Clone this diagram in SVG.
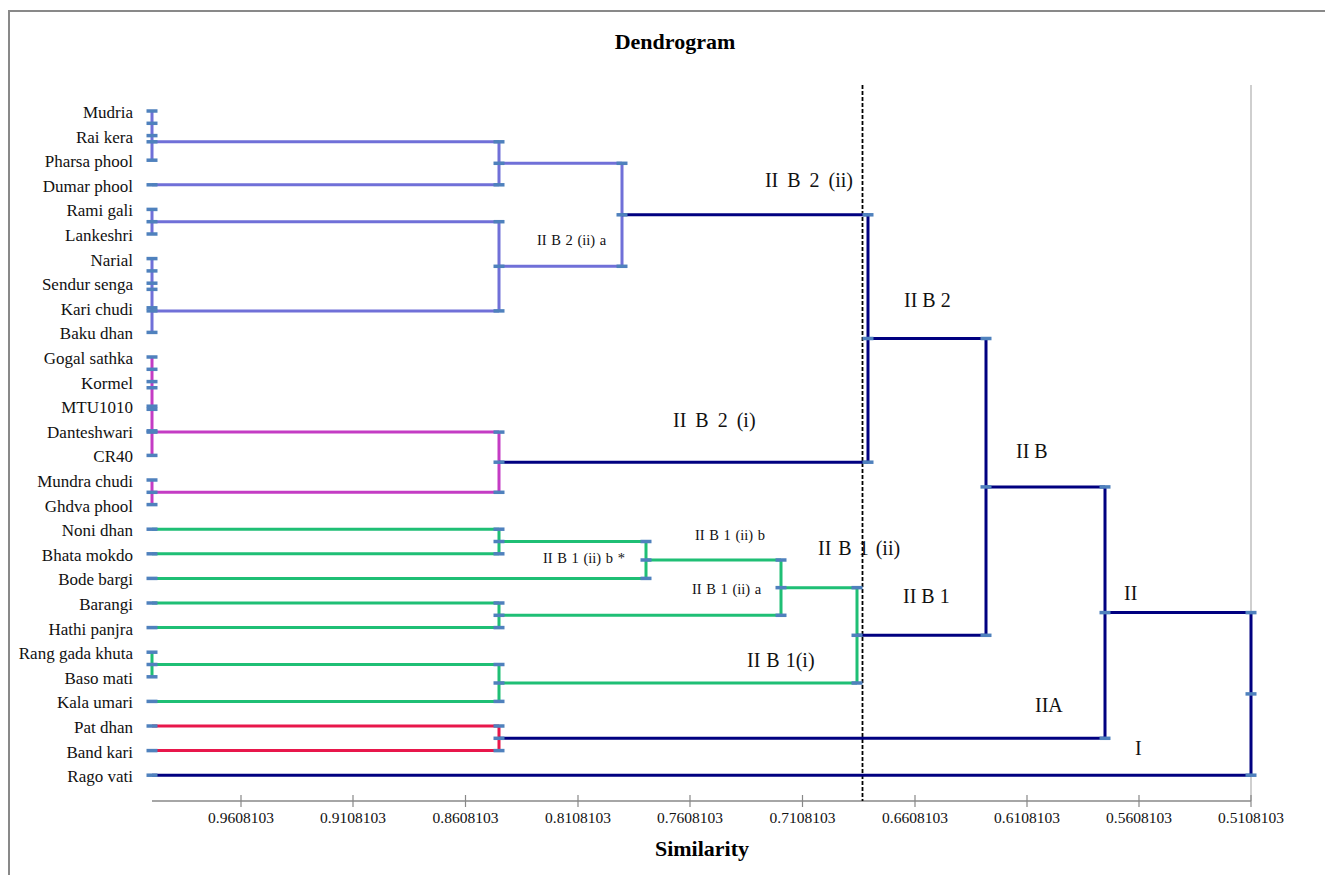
<svg xmlns="http://www.w3.org/2000/svg" width="1325" height="875" viewBox="0 0 1325 875">
<style>
text{font-family:'Liberation Serif','Times New Roman',Tinos,'DejaVu Serif',serif}
.lbl{font-size:17px;fill:#111;text-anchor:end}
.big{font-size:20px;fill:#111}
.sm{font-size:14.5px;fill:#111}
.ax{font-size:15.5px;fill:#111;text-anchor:middle}
.ttl{font-size:22px;font-weight:bold;fill:#000;text-anchor:middle}
.pu{stroke:#7070D8;stroke-width:3;fill:none}
.mg{stroke:#C43CC4;stroke-width:3;fill:none}
.gr{stroke:#1FBF75;stroke-width:3;fill:none}
.rd{stroke:#E8174B;stroke-width:3;fill:none}
.nv{stroke:#000080;stroke-width:3;fill:none}
</style>
<defs>
<path id="mk" d="M-5.5 0H5.5" stroke="#4F81BD" stroke-width="3.5"/>
</defs>
<rect x="0" y="0" width="1325" height="875" fill="#fff"/>
<rect x="9" y="11" width="1400" height="900" fill="none" stroke="#898989" stroke-width="2"/>

<g font-family="Liberation Serif, Times New Roman, serif">
<text class="ttl" x="675" y="49">Dendrogram</text>

<g id="axis">
<line x1="1251" y1="85" x2="1251" y2="801" stroke="#BFBFBF" stroke-width="1.5"/>
<line x1="152" y1="801" x2="1251" y2="801" stroke="#888" stroke-width="1.3"/>
<g stroke="#888" stroke-width="1.2">
<line x1="241" y1="795" x2="241" y2="807"/><line x1="353" y1="795" x2="353" y2="807"/>
<line x1="465.5" y1="795" x2="465.5" y2="807"/><line x1="578" y1="795" x2="578" y2="807"/>
<line x1="690" y1="795" x2="690" y2="807"/><line x1="802.5" y1="795" x2="802.5" y2="807"/>
<line x1="915" y1="795" x2="915" y2="807"/><line x1="1027" y1="795" x2="1027" y2="807"/>
<line x1="1139" y1="795" x2="1139" y2="807"/><line x1="1251" y1="795" x2="1251" y2="807"/>
</g>
<text class="ax" x="241" y="823">0.9608103</text>
<text class="ax" x="353" y="823">0.9108103</text>
<text class="ax" x="465.5" y="823">0.8608103</text>
<text class="ax" x="578" y="823">0.8108103</text>
<text class="ax" x="690" y="823">0.7608103</text>
<text class="ax" x="802.5" y="823">0.7108103</text>
<text class="ax" x="915" y="823">0.6608103</text>
<text class="ax" x="1027" y="823">0.6108103</text>
<text class="ax" x="1139" y="823">0.5608103</text>
<text class="ax" x="1251" y="823">0.5108103</text>
<text class="ttl" x="702" y="856">Similarity</text>
</g>

<g id="leaf-mudria"><text class="lbl" x="133" y="118">Mudria</text></g>
<g id="leaf-rai-kera"><text class="lbl" x="133" y="142.6">Rai kera</text></g>
<g id="leaf-pharsa-phool"><text class="lbl" x="133" y="167.2">Pharsa phool</text></g>
<g id="leaf-dumar-phool"><text class="lbl" x="133" y="191.8">Dumar phool</text></g>
<g id="leaf-rami-gali"><text class="lbl" x="133" y="216.4">Rami gali</text></g>
<g id="leaf-lankeshri"><text class="lbl" x="133" y="241">Lankeshri</text></g>
<g id="leaf-narial"><text class="lbl" x="133" y="265.6">Narial</text></g>
<g id="leaf-sendur-senga"><text class="lbl" x="133" y="290.2">Sendur senga</text></g>
<g id="leaf-kari-chudi"><text class="lbl" x="133" y="314.8">Kari chudi</text></g>
<g id="leaf-baku-dhan"><text class="lbl" x="133" y="339.4">Baku dhan</text></g>
<g id="leaf-gogal-sathka"><text class="lbl" x="133" y="364">Gogal sathka</text></g>
<g id="leaf-kormel"><text class="lbl" x="133" y="388.6">Kormel</text></g>
<g id="leaf-mtu1010"><text class="lbl" x="133" y="413.2">MTU1010</text></g>
<g id="leaf-danteshwari"><text class="lbl" x="133" y="437.8">Danteshwari</text></g>
<g id="leaf-cr40"><text class="lbl" x="133" y="462.4">CR40</text></g>
<g id="leaf-mundra-chudi"><text class="lbl" x="133" y="487">Mundra chudi</text></g>
<g id="leaf-ghdva-phool"><text class="lbl" x="133" y="511.6">Ghdva phool</text></g>
<g id="leaf-noni-dhan"><text class="lbl" x="133" y="536.2">Noni dhan</text></g>
<g id="leaf-bhata-mokdo"><text class="lbl" x="133" y="560.8">Bhata mokdo</text></g>
<g id="leaf-bode-bargi"><text class="lbl" x="133" y="585.4">Bode bargi</text></g>
<g id="leaf-barangi"><text class="lbl" x="133" y="610">Barangi</text></g>
<g id="leaf-hathi-panjra"><text class="lbl" x="133" y="634.6">Hathi panjra</text></g>
<g id="leaf-rang-gada-khuta"><text class="lbl" x="133" y="659.2">Rang gada khuta</text></g>
<g id="leaf-baso-mati"><text class="lbl" x="133" y="683.8">Baso mati</text></g>
<g id="leaf-kala-umari"><text class="lbl" x="133" y="708.4">Kala umari</text></g>
<g id="leaf-pat-dhan"><text class="lbl" x="133" y="733">Pat dhan</text></g>
<g id="leaf-band-kari"><text class="lbl" x="133" y="757.6">Band kari</text></g>
<g id="leaf-rago-vati"><text class="lbl" x="133" y="782.2">Rago vati</text></g>

<g id="cluster-labels">
<text class="big" x="853" y="187" text-anchor="end" word-spacing="4">II B 2 (ii)</text>
<text class="sm" x="537" y="245" word-spacing="1">II B 2 (ii) a</text>
<text class="big" x="904" y="307">II B 2</text>
<text class="big" x="673" y="427" word-spacing="4">II B 2 (i)</text>
<text class="big" x="1016" y="458">II B</text>
<text class="sm" x="695" y="540" word-spacing="1">II B 1 (ii) b</text>
<text class="big" x="818" y="555" word-spacing="2">II B 1 (ii)</text>
<text class="sm" x="543" y="563" word-spacing="1">II B 1 (ii) b *</text>
<text class="sm" x="692" y="594" word-spacing="1">II B 1 (ii) a</text>
<text class="big" x="903" y="603">II B 1</text>
<text class="big" x="747" y="667" word-spacing="1">II B 1(i)</text>
<text class="big" x="1124" y="600">II</text>
<text class="big" x="1035" y="712">IIA</text>
<text class="big" x="1135" y="755">I</text>
</g>
</g>

<line x1="862.5" y1="85" x2="862.5" y2="801" stroke="#000" stroke-width="1.8" stroke-dasharray="4,2"/>

<g id="connectors">
<path class="pu" d="M152 111V160.2 M152 141.8H499 M152 184.8H499 M499 141.8V184.8 M499 163.3H622 M152 209.4V234 M152 221.7H499 M152 258.6V332.4 M152 310.9H499 M499 221.7V310.9 M499 266.3H622 M622 163.3V266.3"/>
<path class="mg" d="M152 357V455.4 M152 432.1H499 M152 480V504.6 M152 492.3H499 M499 432.1V492.3"/>
<path class="gr" d="M152 529.2H499 M152 553.8H499 M499 529.2V553.8 M499 541.5H646 M152 578.4H646 M646 541.5V578.4 M646 560H781 M152 603H499 M152 627.6H499 M499 603V627.6 M499 615.3H781 M781 560V615.3 M781 587.65H857 M152 652.2V676.8 M152 664.5H499 M152 701.4H499 M499 664.5V701.4 M499 683H857 M857 587.65V683"/>
<path class="rd" d="M152 726H499 M152 750.6H499 M499 726V750.6"/>
<path class="nv" d="M622 214.8H868 M499 462.2H868 M868 214.8V462.2 M868 338.5H986 M857 635.3H986 M986 338.5V635.3 M986 486.9H1105 M499 738.3H1105 M1105 486.9V738.3 M1105 612.6H1251 M152 775.2H1251 M1251 612.6V775.2"/>
</g>

<g id="point-markers">
<use href="#mk" x="152" y="111"/><use href="#mk" x="152" y="123.3"/><use href="#mk" x="152" y="135.6"/><use href="#mk" x="152" y="141.8"/><use href="#mk" x="152" y="160.2"/><use href="#mk" x="152" y="184.8"/><use href="#mk" x="152" y="209.4"/><use href="#mk" x="152" y="221.7"/><use href="#mk" x="152" y="234"/><use href="#mk" x="152" y="258.6"/><use href="#mk" x="152" y="270.9"/><use href="#mk" x="152" y="283.2"/><use href="#mk" x="152" y="289.35"/><use href="#mk" x="152" y="307.8"/><use href="#mk" x="152" y="310.9"/><use href="#mk" x="152" y="332.4"/>
<use href="#mk" x="499" y="141.8"/><use href="#mk" x="499" y="163.3"/><use href="#mk" x="499" y="184.8"/><use href="#mk" x="499" y="221.7"/><use href="#mk" x="499" y="266.3"/><use href="#mk" x="499" y="310.9"/>
<use href="#mk" x="622" y="163.3"/><use href="#mk" x="622" y="214.8"/><use href="#mk" x="622" y="266.3"/>
<use href="#mk" x="868" y="214.8"/><use href="#mk" x="868" y="338.5"/><use href="#mk" x="868" y="462.2"/>
<use href="#mk" x="152" y="357"/><use href="#mk" x="152" y="369.3"/><use href="#mk" x="152" y="381.6"/><use href="#mk" x="152" y="387.75"/><use href="#mk" x="152" y="406.2"/><use href="#mk" x="152" y="409.3"/><use href="#mk" x="152" y="430.8"/><use href="#mk" x="152" y="432.1"/><use href="#mk" x="152" y="455.4"/><use href="#mk" x="152" y="480"/><use href="#mk" x="152" y="492.3"/><use href="#mk" x="152" y="504.6"/>
<use href="#mk" x="499" y="432.1"/><use href="#mk" x="499" y="462.2"/><use href="#mk" x="499" y="492.3"/>
<use href="#mk" x="152" y="529.2"/><use href="#mk" x="152" y="553.8"/><use href="#mk" x="152" y="578.4"/><use href="#mk" x="152" y="603"/><use href="#mk" x="152" y="627.6"/><use href="#mk" x="152" y="652.2"/><use href="#mk" x="152" y="664.5"/><use href="#mk" x="152" y="676.8"/><use href="#mk" x="152" y="701.4"/>
<use href="#mk" x="499" y="529.2"/><use href="#mk" x="499" y="541.5"/><use href="#mk" x="499" y="553.8"/><use href="#mk" x="499" y="603"/><use href="#mk" x="499" y="615.3"/><use href="#mk" x="499" y="627.6"/><use href="#mk" x="499" y="664.5"/><use href="#mk" x="499" y="683"/><use href="#mk" x="499" y="701.4"/>
<use href="#mk" x="646" y="541.5"/><use href="#mk" x="646" y="560"/><use href="#mk" x="646" y="578.4"/>
<use href="#mk" x="781" y="560"/><use href="#mk" x="781" y="587.65"/><use href="#mk" x="781" y="615.3"/>
<use href="#mk" x="857" y="587.65"/><use href="#mk" x="857" y="635.3"/><use href="#mk" x="857" y="683"/>
<use href="#mk" x="986" y="338.5"/><use href="#mk" x="986" y="486.9"/><use href="#mk" x="986" y="635.3"/>
<use href="#mk" x="152" y="726"/><use href="#mk" x="152" y="750.6"/>
<use href="#mk" x="499" y="726"/><use href="#mk" x="499" y="738.3"/><use href="#mk" x="499" y="750.6"/>
<use href="#mk" x="1105" y="486.9"/><use href="#mk" x="1105" y="612.6"/><use href="#mk" x="1105" y="738.3"/>
<use href="#mk" x="152" y="775.2"/>
<use href="#mk" x="1251" y="612.6"/><use href="#mk" x="1251" y="693.9"/><use href="#mk" x="1251" y="775.2"/>
</g>
</svg>
